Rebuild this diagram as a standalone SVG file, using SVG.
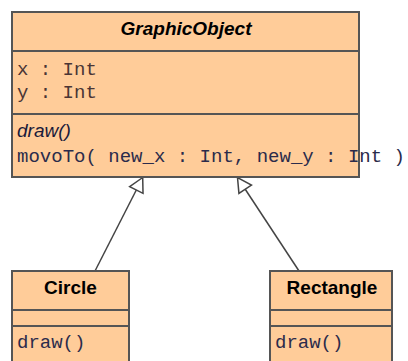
<svg xmlns="http://www.w3.org/2000/svg" width="408" height="361" viewBox="0 0 408 361">
<style>
.box{fill:#FFCC99;stroke:#555555;stroke-width:2}
.sep{stroke:#555555;stroke-width:2}
.title{font-family:"Liberation Sans",Arial,sans-serif;font-weight:bold;font-size:19px;fill:#000;text-anchor:middle}
.attr{font-family:"Liberation Mono","Courier New",monospace;font-size:19px;fill:#4a3535}
.meth{font-family:"Liberation Mono","Courier New",monospace;font-size:19px;fill:#2b2b4b}
.abs{font-family:"Liberation Sans",Arial,sans-serif;font-style:italic;font-size:19px;fill:#1a1a3a}
.conn{stroke:#444444;stroke-width:1.5;fill:none}
</style>
<defs>
<marker id="gen" viewBox="-16 -9 18 18" markerWidth="18" markerHeight="18" refX="0" refY="0" orient="auto" markerUnits="userSpaceOnUse">
<path d="M0,0 L-14,-7.5 L-14,7.5 Z" fill="#ffffff" stroke="#444444" stroke-width="1.5" stroke-linejoin="miter"/>
</marker>
</defs>
<g id="connectors">
<line class="conn" x1="95" y1="271" x2="142.7" y2="177.5" marker-end="url(#gen)"/>
<line class="conn" x1="299" y1="271" x2="237.5" y2="177.5" marker-end="url(#gen)"/>
</g>
<g id="GraphicObject">
<rect class="box" x="12" y="12" width="347" height="165"/>
<line class="sep" x1="12" y1="51" x2="359" y2="51"/>
<line class="sep" x1="12" y1="114" x2="359" y2="114"/>
<text class="title" x="186" y="35" font-style="italic">GraphicObject</text>
<text class="attr" x="17" y="75">x : Int</text>
<text class="attr" x="17" y="98">y : Int</text>
<text class="abs" x="17" y="137">draw()</text>
<text class="meth" x="17" y="162" textLength="388" lengthAdjust="spacing">movoTo( new_x : Int, new_y : Int )</text>
</g>
<g id="Circle">
<rect class="box" x="12" y="271" width="117" height="110"/>
<line class="sep" x1="12" y1="310" x2="129" y2="310"/>
<line class="sep" x1="12" y1="326" x2="129" y2="326"/>
<text class="title" x="70.5" y="294">Circle</text>
<text class="meth" x="17" y="348">draw()</text>
</g>
<g id="Rectangle">
<rect class="box" x="270" y="271" width="122" height="110"/>
<line class="sep" x1="270" y1="310" x2="392" y2="310"/>
<line class="sep" x1="270" y1="326" x2="392" y2="326"/>
<text class="title" x="332" y="294">Rectangle</text>
<text class="meth" x="275" y="348">draw()</text>
</g>
</svg>
